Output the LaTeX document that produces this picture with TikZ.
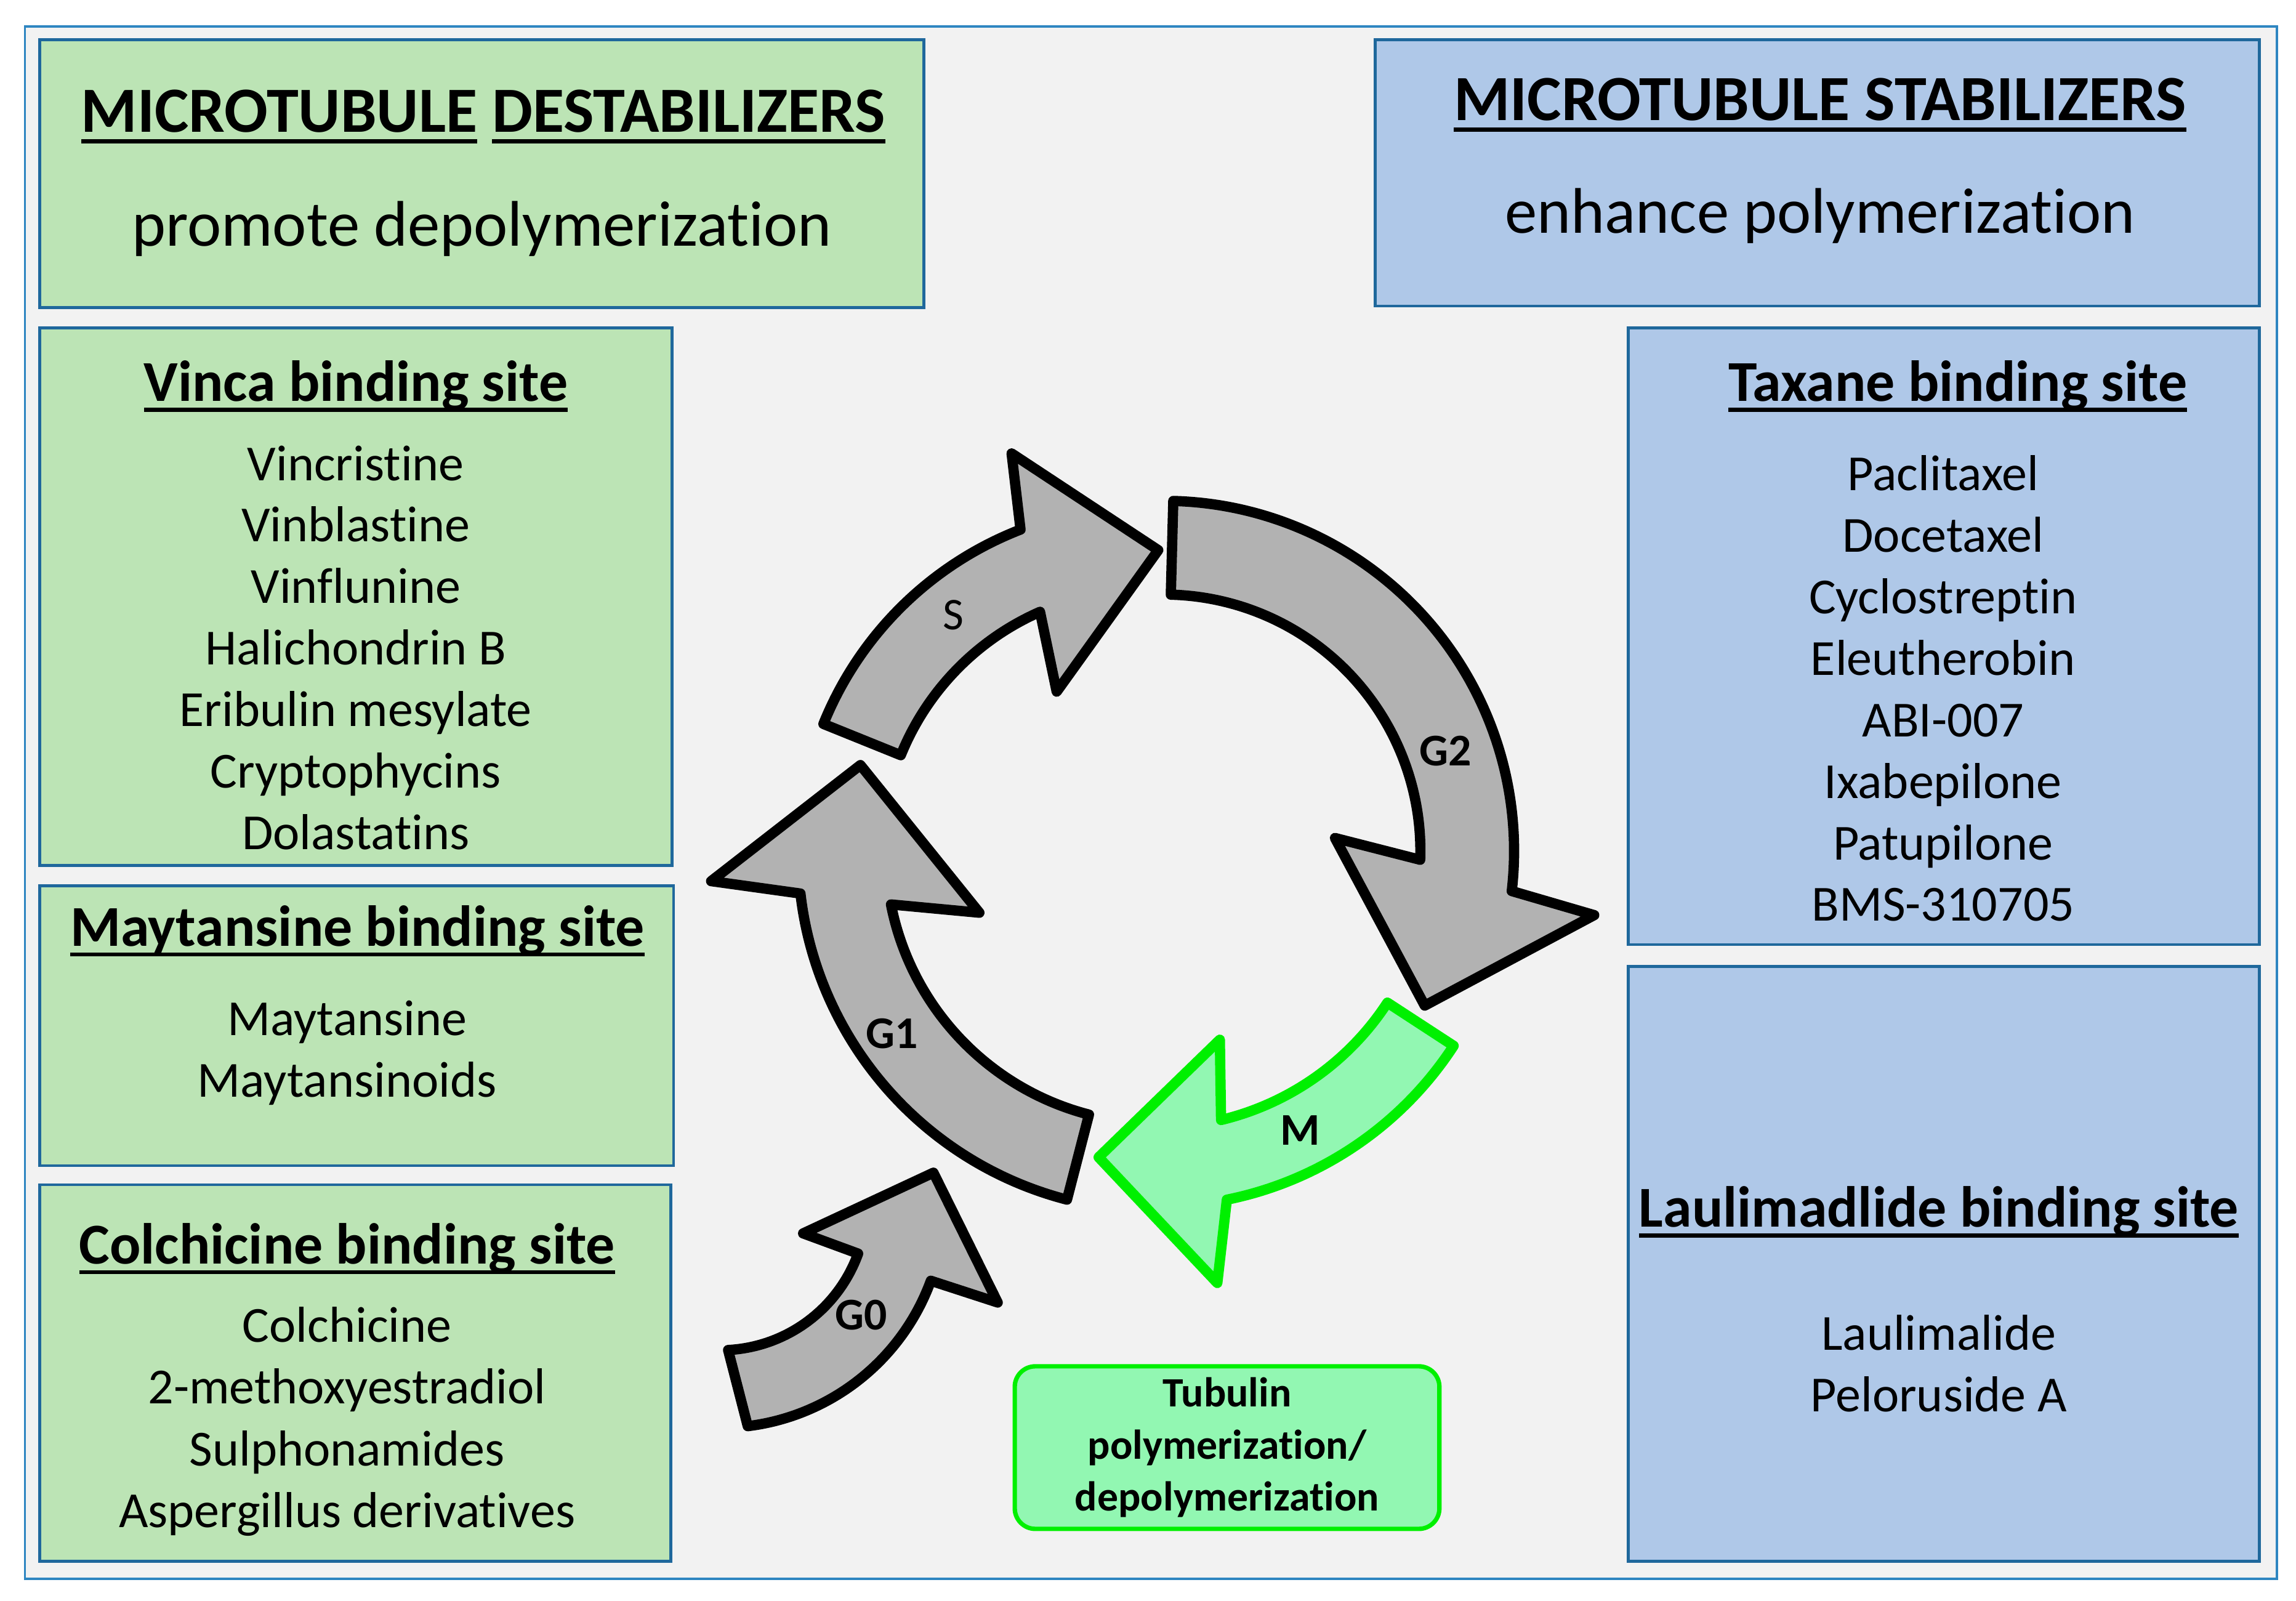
\documentclass[tikz,border=0pt]{standalone}
\usepackage{fontspec}
\setmainfont{Carlito}[Ligatures=NoCommon]

\definecolor{frameblue}{RGB}{46,134,193}
\definecolor{boxblue}{RGB}{31,104,156}
\definecolor{bggray}{RGB}{242,242,242}
\definecolor{greenfill}{RGB}{188,228,181}
\definecolor{bluefill}{RGB}{175,200,232}
\definecolor{phasegray}{RGB}{178,178,178}
\definecolor{mintfill}{RGB}{146,247,178}
\definecolor{mgreen}{RGB}{0,240,0}

% underline with a fixed depth, like the slide font does
\newcommand{\undl}[1]{\setbox0=\hbox{#1}\rlap{\rule[-0.18em]{\wd0}{0.07em}}\box0\relax}

\tikzset{
  greenbox/.style={draw=boxblue, line width=2pt, fill=greenfill, inner sep=0pt},
  bluebox/.style={draw=boxblue, line width=2pt, fill=bluefill, inner sep=0pt},
  headtitle/.style={font=\bfseries\fontsize{44}{53}\selectfont, anchor=base, inner sep=0pt},
  headtext/.style={font=\fontsize{44}{53}\selectfont, anchor=base, inner sep=0pt},
  sitetitle/.style={font=\bfseries\fontsize{39.5}{48}\selectfont, anchor=base, inner sep=0pt},
  drugitem/.style={font=\fontsize{34.5}{42}\selectfont, anchor=base, inner sep=0pt},
  phase/.style={draw=black, fill=phasegray, line width=7pt, line join=round},
  mphase/.style={draw=mgreen, fill=mintfill, line width=7pt, line join=round},
  phaselabel/.style={font=\bfseries\fontsize{31}{37}\selectfont, inner sep=0pt},
}

\begin{document}
\begin{tikzpicture}[x=1pt, y=-1pt]
\useasboundingbox[fill=white] (0,0) rectangle (1568,1093);

% Frame
\node[draw=frameblue, line width=1.5pt, fill=bggray, minimum width=1538pt, minimum height=1060pt] (frame) at (786,548) {};

% Header boxes
\node[greenbox, minimum width=604pt, minimum height=183pt] (destab) at (329,118.5) {};
\node[bluebox, minimum width=604pt, minimum height=182pt] (stab) at (1241,118) {};
\node[headtitle] (destabT) at (330,90) {\undl{MICROTUBULE} \undl{DESTABILIZERS}};
\node[headtext] (destabS) at (329,168) {promote depolymerization};
\node[headtitle] (stabT) at (1243,82) {\undl{MICROTUBULE STABILIZERS}};
\node[headtext] (stabS) at (1243,159) {enhance polymerization};

% Binding site boxes
\node[greenbox, minimum width=432pt, minimum height=367pt] (vinca) at (243,407.5) {};
\node[greenbox, minimum width=433pt, minimum height=191pt] (maytan) at (243.5,700.5) {};
\node[greenbox, minimum width=431pt, minimum height=257pt] (colch) at (242.5,937.5) {};
\node[bluebox, minimum width=431pt, minimum height=421pt] (taxane) at (1327.5,434.5) {};
\node[bluebox, minimum width=431pt, minimum height=406pt] (laulim) at (1327.5,863) {};

\node[sitetitle] (vincaT) at (243,274) {\undl{Vinca binding site}};
\foreach \drug [count=\i] in {Vincristine, Vinblastine, Vinflunine, Halichondrin B, Eribulin mesylate, Cryptophycins, Dolastatins}
  \node[drugitem] (vinca\i) at (243,{286+42*\i}) {\drug};

\node[sitetitle] (maytanT) at (244,646) {\undl{Maytansine binding site}};
\foreach \drug [count=\i] in {Maytansine, Maytansinoids}
  \node[drugitem] (maytan\i) at (237,{665+42*\i}) {\drug};

\node[sitetitle] (colchT) at (237,863) {\undl{Colchicine binding site}};
\foreach \drug [count=\i] in {Colchicine, 2-methoxyestradiol, Sulphonamides, Aspergillus derivatives}
  \node[drugitem] (colch\i) at (237,{874+42.3*\i}) {\drug};

\node[sitetitle] (taxaneT) at (1337,274) {\undl{Taxane binding site}};
\foreach \drug [count=\i] in {Paclitaxel, Docetaxel, Cyclostreptin, Eleutherobin, ABI-007, Ixabepilone, Patupilone, BMS-310705}
  \node[drugitem] (taxane\i) at (1327,{293+42*\i}) {\drug};

\node[sitetitle] (laulimT) at (1324,838) {\undl{Laulimadlide binding site}};
\foreach \drug [count=\i] in {Laulimalide, Peloruside A}
  \node[drugitem] (laulim\i) at (1324,{880+42*\i}) {\drug};

% Cell cycle arrows
\draw[phase, shift={(492,822)}] (83:153) arc[start angle=83, end angle=20.1, radius=153]
  -- (19.6:201) -- (-8.3:147) -- (19.7:60) -- (19.9:100)
  arc[start angle=19.9, end angle=87, radius=100] -- cycle;
\draw[phase, shift={(790,582)}] (104.5:245) arc[start angle=104.5, end angle=173.4, radius=245]
  -- (176.3:305) -- (196.4:211) -- (161.2:128) -- (168.9:185)
  arc[start angle=168.9, end angle=104.5, radius=185] -- cycle;
\draw[phase, shift={(783,583.5)}] (-158:238) arc[start angle=-158, end angle=-111.2, radius=238]
  -- (-108.6:289) -- (-87.8:208) -- (-118.9:127) -- (-113.7:181)
  arc[start angle=-113.7, end angle=-158, radius=181] -- cycle;
\draw[phase, shift={(795,581)}] (-88.5:239) arc[start angle=-88.5, end angle=6.6, radius=239]
  -- (8.5:297) -- (30.7:207) -- (-4.3:117) -- (2:175)
  arc[start angle=2, end angle=-88.5, radius=175] -- cycle;
\draw[mphase, shift={(790,582)}] (33.1:242) arc[start angle=33.1, end angle=78.6, radius=242]
  -- (82:297) -- (100.8:212) -- (71.4:135) -- (76.5:188)
  arc[start angle=76.5, end angle=33.1, radius=188] -- cycle;

\node[phaselabel] (g0) at (588,898) {G0};
\node[phaselabel] (g1) at (609,706) {G1};
\node[phaselabel, font=\fontsize{31}{37}\selectfont] (s) at (651,420) {S};
\node[phaselabel] (g2) at (987,513) {G2};
\node[phaselabel] (m) at (888,772) {M};

% Tubulin box
\node[draw=mgreen, line width=3pt, fill=mintfill, rounded corners=14pt, minimum width=290pt, minimum height=111pt, align=center, inner sep=0pt, font=\bfseries\fontsize{28.5}{35.5}\selectfont] (tubulin) at (838,988.5) {Tubulin\\polymerization/\\depolymerization};
\end{tikzpicture}
\end{document}
